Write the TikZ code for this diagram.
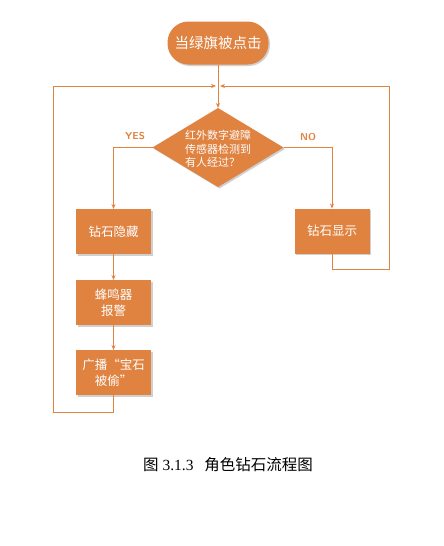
\documentclass[tikz,border=0pt]{standalone}
\usepackage{fontspec}
\setmainfont{Liberation Serif}
\newfontfamily\cjk{Noto Sans CJK SC}
\usetikzlibrary{shapes.geometric,arrows.meta,shadows}
\definecolor{org}{RGB}{224,130,64}
\begin{document}
\begin{tikzpicture}[x=1pt,y=-1pt,
  every node/.style={inner sep=0pt,outer sep=0pt},
  shad/.style={drop shadow={shadow xshift=1.5pt,shadow yshift=-1.5pt,opacity=0.3,fill=black!60}},
  procbox/.style={shad,fill=org,minimum width=75pt,minimum height=45pt,align=center,text=white,font=\cjk\fontsize{12.5}{15.5}\selectfont},
  startbox/.style={shad,fill=org,rounded corners=21pt,minimum width=101pt,minimum height=43pt,text=white,font=\cjk\fontsize{14.5}{16}\selectfont},
  decbox/.style={diamond,shad,fill=org,aspect=1.65,minimum width=131pt,minimum height=79pt,text=white,inner sep=0pt},
  conn/.style={draw=org,line width=0.8pt},
  arr/.style={conn,-{Stealth[length=5pt,width=4pt]}},
  lab/.style={text=org,font=\sffamily\bfseries\fontsize{10}{12}\selectfont}]
\useasboundingbox (0,0) rectangle (444,546);
\fill[white] (0,0) rectangle (444,546);
\node[startbox] (start) at (218,43) {当绿旗被点击};
\node[decbox] (dec) at (218,147.5) {};
\node[align=left,text=white,font=\cjk\fontsize{11}{13.5}\selectfont] (dectext) at (218,149) {红外数字避障\\传感器检测到\\有人经过？};
\node[procbox] (hide) at (113.5,231.5) {钻石隐藏};
\node[procbox] (show) at (332,231) {钻石显示};
\node[procbox] (buzz) at (113.5,302.5) {蜂鸣器\\报警};
\node[procbox] (bcast) at (113.5,372.5) {广播“宝石\\被偷”};
\coordinate (ml) at (216,86);
\coordinate (mr) at (220,86);
\node[lab] (yes) at (135,136) {YES};
\node[lab] (no) at (308,137) {NO};
\draw[arr] (start.south) -- (dec.north);
\draw[arr] (dec.west) -| (hide.north);
\draw[arr] (dec.east) -| (show.north);
\draw[arr] (hide.south) -- (buzz.north);
\draw[arr] (buzz.south) -- (bcast.north);
\draw[arr] (bcast.south) -- ++(0,17) -| (53,86) -- (ml);
\draw[arr] (show.south) -- ++(0,16) -| (389,86) -- (mr);
\node[font=\fontsize{15.5}{17}\selectfont] (cap) at (228,465) {{\cjk 图} 3.1.3\hspace{0.7em}{\cjk 角色钻石流程图}};
\end{tikzpicture}
\end{document}
